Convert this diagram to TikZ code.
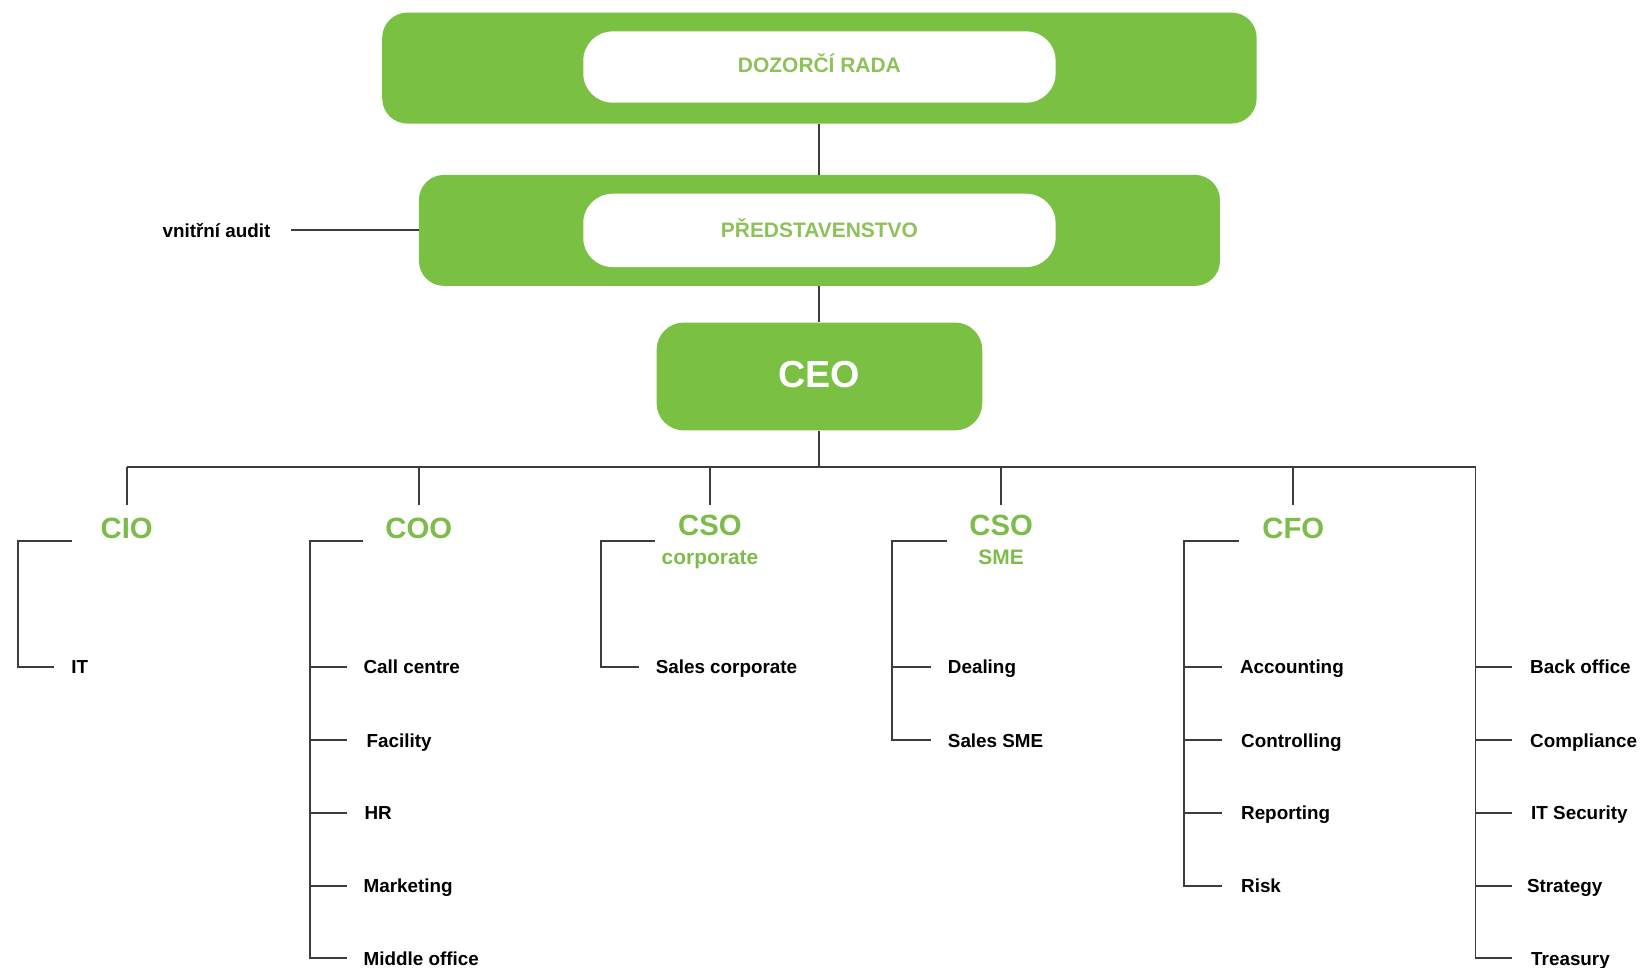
\documentclass[tikz,border=0pt]{standalone}
\usepackage{fontspec}
\setmainfont{Liberation Sans}
\definecolor{boxgreen}{HTML}{7AC143}
\definecolor{titlegreen}{HTML}{8DC259}
\definecolor{headgreen}{HTML}{7DBC4A}
\definecolor{linegray}{HTML}{3C3C3C}
\begin{document}
\begin{tikzpicture}[x=1pt,y=-1pt,
  outerbox/.style={fill=boxgreen, rounded corners=24pt, inner sep=0pt},
  innerbox/.style={fill=white, rounded corners=28pt, inner sep=0pt, minimum width=451pt},
  titletxt/.style={font=\bfseries\fontsize{20}{24}\selectfont, text=titlegreen, anchor=base, inner sep=0pt},
  headtxt/.style={font=\bfseries\fontsize{28}{32}\selectfont, text=headgreen, anchor=base, inner sep=0pt},
  subtxt/.style={font=\bfseries\fontsize{20}{24}\selectfont, text=headgreen, anchor=base, inner sep=0pt},
  lbl/.style={font=\bfseries\fontsize{18}{22}\selectfont, text=black, anchor=base west, inner sep=0pt},
  conn/.style={draw=linegray, line width=1.8pt},
]
\useasboundingbox (0,0) rectangle (1568,924);

% top boxes
\node[outerbox, minimum width=835pt, minimum height=106pt] (dozor) at (782.5,65) {};
\node[innerbox, minimum height=68pt] (dozorin) at (782.5,64) {};
\node[titletxt] (dozort) at (782.5,69) {DOZORČÍ RADA};
\node[outerbox, minimum width=765pt, minimum height=106pt] (pred) at (782.5,220) {};
\node[innerbox, minimum height=70pt] (predin) at (782.5,220) {};
\node[titletxt] (predt) at (782.5,227) {PŘEDSTAVENSTVO};
\node[outerbox, rounded corners=26pt, minimum width=311pt, minimum height=103pt] (ceo) at (782.5,359.5) {};
\node[font=\bfseries\fontsize{36}{40}\selectfont, text=white, anchor=base, inner sep=0pt] (ceot) at (782.5,370) {CEO};

\node[lbl] (audit) at (155,226.5) {vnitřní audit};
\coordinate (audend) at (278,220);

\draw[conn] (dozor.south) -- (pred.north);
\draw[conn] (pred.south) -- (ceo.north);
\draw[conn] (audend) -- (audend -| pred.west);

% bus
\coordinate (busc) at (782.5,446);
\coordinate (b1) at (121,446);
\coordinate (b6) at (1409,446);
\draw[conn] (ceo.south) -- (busc);
\draw[conn] (b1) -- (b6);

% heads
\node[headtxt] (cio) at (121,514) {CIO};
\node[headtxt] (coo) at (400,514) {COO};
\node[headtxt] (csoc) at (678,511) {CSO};
\node[subtxt] (csocs) at (678,539) {corporate};
\node[headtxt] (csos) at (956,511) {CSO};
\node[subtxt] (csoss) at (956,539) {SME};
\node[headtxt] (cfo) at (1235,514) {CFO};

\foreach \n/\x in {cio/121, coo/400, csoc/678, csos/956, cfo/1235}{
  \coordinate (t\n) at (\x,446);
  \coordinate (e\n) at (\x,482);
  \draw[conn] (t\n) -- (e\n);
}

% CIO group
\node[lbl] (it) at (68,643.5) {IT};
\coordinate (cioa) at (69,517);
\coordinate (ciob) at (17,517);
\coordinate (cioc) at (17,637);
\draw[conn] (cioa) -- (ciob) -- (cioc) -- (52,637);

% COO group
\node[lbl] (callc) at (347,643.5) {Call centre};
\node[lbl] (facil) at (350,713.5) {Facility};
\node[lbl] (hr) at (348,782.5) {HR};
\node[lbl] (mark) at (347,852.5) {Marketing};
\node[lbl] (midof) at (347,921.5) {Middle office};
\coordinate (cooa) at (347,517);
\coordinate (coob) at (296,517);
\coordinate (cooc) at (296,915);
\draw[conn] (cooa) -- (coob) -- (cooc) -- (331,915);
\foreach \y in {637,707,776,846}{ \draw[conn] (296,\y) -- (331,\y); }

% CSO corporate group
\node[lbl] (salesc) at (626,643.5) {Sales corporate};
\coordinate (csca) at (625,517);
\coordinate (cscb) at (574,517);
\coordinate (cscc) at (574,637);
\draw[conn] (csca) -- (cscb) -- (cscc) -- (610,637);

% CSO SME group
\node[lbl] (deal) at (905,643.5) {Dealing};
\node[lbl] (salesm) at (905,713.5) {Sales SME};
\coordinate (cssa) at (904,517);
\coordinate (cssb) at (852,517);
\coordinate (cssc) at (852,707);
\draw[conn] (cssa) -- (cssb) -- (cssc) -- (889,707);
\draw[conn] (852,637) -- (889,637);

% CFO group
\node[lbl] (acc) at (1184,643.5) {Accounting};
\node[lbl] (ctrl) at (1185,713.5) {Controlling};
\node[lbl] (rep) at (1185,782.5) {Reporting};
\node[lbl] (risk) at (1185,852.5) {Risk};
\coordinate (cfoa) at (1183,517);
\coordinate (cfob) at (1131,517);
\coordinate (cfoc) at (1131,846);
\draw[conn] (cfoa) -- (cfob) -- (cfoc) -- (1167,846);
\foreach \y in {637,707,776}{ \draw[conn] (1131,\y) -- (1167,\y); }

% right column
\node[lbl] (back) at (1461,643.5) {Back office};
\node[lbl] (comp) at (1461,713.5) {Compliance};
\node[lbl] (itsec) at (1462,782.5) {IT Security};
\node[lbl] (strat) at (1458,852.5) {Strategy};
\node[lbl] (treas) at (1462,921.5) {Treasury};
\coordinate (rcb) at (1409,915);
\draw[conn] (b6) -- (rcb) -- (1444,915);
\foreach \y in {637,707,776,846}{ \draw[conn] (1409,\y) -- (1444,\y); }
\end{tikzpicture}
\end{document}
